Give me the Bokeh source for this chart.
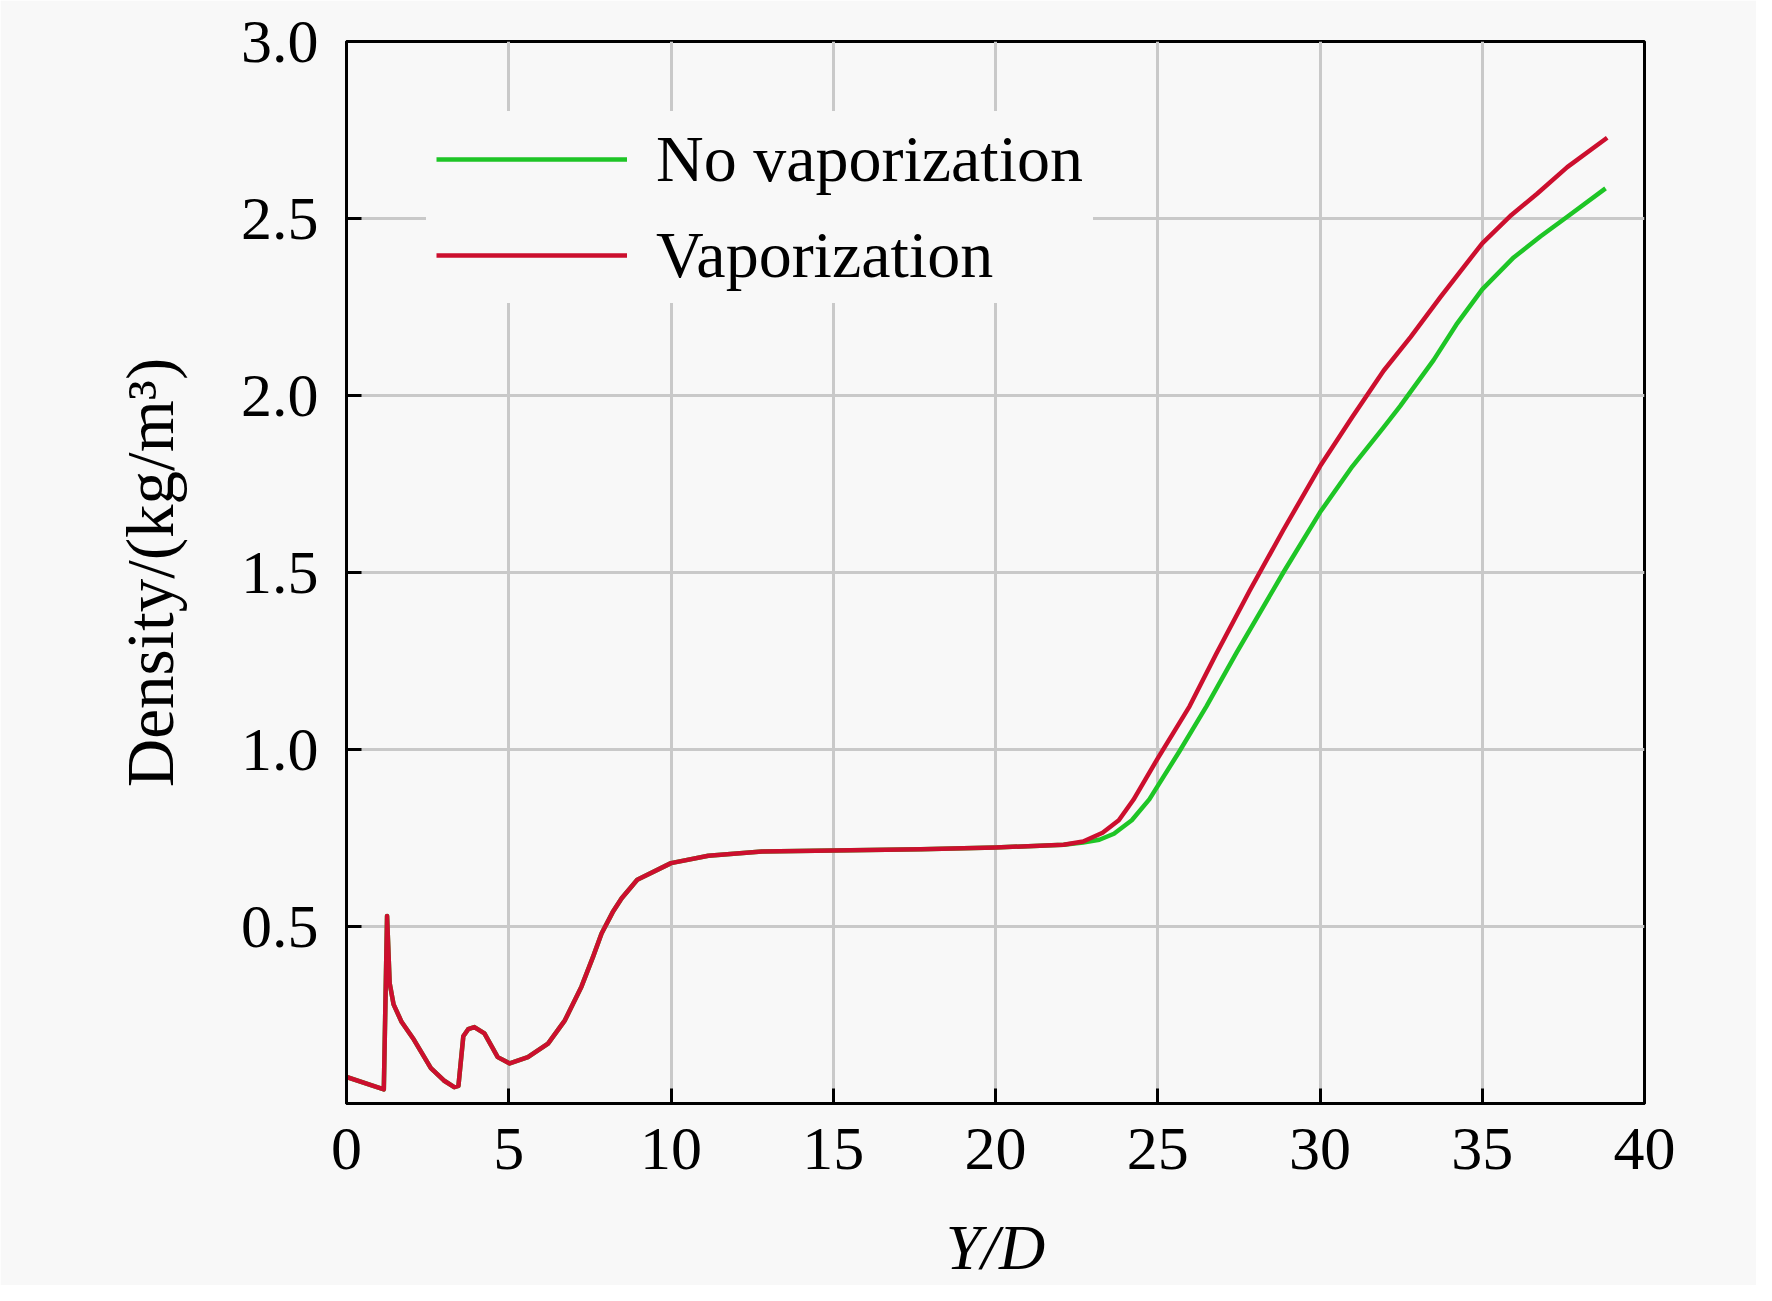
from bokeh.plotting import figure
from bokeh.models import Range1d, FixedTicker, Legend, LegendItem, NumeralTickFormatter
from bokeh.embed import file_html
from bokeh.resources import INLINE

# Shared part of both curves (identical up to Y/D ~ 22)
x_shared = [0, 1.15, 1.25, 1.33, 1.45, 1.7, 2.08, 2.6, 3.0, 3.32, 3.45, 3.6, 3.75,
            3.94, 4.25, 4.66, 5.03, 5.59, 6.21, 6.73, 7.24, 7.6, 7.86, 8.2, 8.48, 8.96, 10.0,
            11.15, 12.8, 15.0, 17.7, 20.0, 22.1]
y_shared = [0.075, 0.04, 0.53, 0.34, 0.28, 0.23, 0.18, 0.10, 0.065, 0.046, 0.05, 0.19, 0.21,
            0.216, 0.198, 0.131, 0.113, 0.131, 0.169, 0.235, 0.33, 0.415, 0.48, 0.54, 0.58, 0.632, 0.679,
            0.70, 0.712, 0.715, 0.718, 0.723, 0.731]

# No vaporization (green) after the shared part
x_novap = [22.7, 23.2, 23.65, 24.2, 24.74, 25.67, 26.5, 27.42, 28.87, 30.0, 31.0,
           31.96, 32.47, 33.5, 34.2, 35.0, 35.97, 36.8, 37.62, 38.8]
y_novap = [0.737, 0.745, 0.762, 0.80, 0.859, 0.995, 1.122, 1.272, 1.50, 1.67, 1.80,
           1.91, 1.97, 2.10, 2.20, 2.30, 2.39, 2.45, 2.505, 2.585]

# Vaporization (red) after the shared part
x_vap = [22.7, 23.3, 23.8, 24.25, 25.0, 25.98, 26.8, 27.84, 28.87, 30.0, 31.0, 31.96,
         32.79, 33.71, 35.0, 35.9, 36.69, 37.62, 38.85]
y_vap = [0.74, 0.765, 0.80, 0.858, 0.975, 1.122, 1.27, 1.45, 1.62, 1.80, 1.94, 2.07,
         2.165, 2.278, 2.43, 2.51, 2.57, 2.645, 2.728]

x_ticks = [0, 5, 10, 15, 20, 25, 30, 35, 40]
y_ticks = [0.5, 1.0, 1.5, 2.0, 2.5, 3.0]
series_names = ["No vaporization", "Vaporization"]
series_colors = ["#1ec526", "#cc0f2e"]

FONT = "Liberation Serif"
BG = "#f8f8f8"

p = figure(width=1756, height=1285, output_backend="svg", toolbar_location=None,
           x_range=Range1d(0, 40), y_range=Range1d(0, 3.0),
           min_border_left=346, min_border_right=112, min_border_top=41, min_border_bottom=182)
p.background_fill_color = BG
p.border_fill_color = BG
p.outline_line_color = "black"
p.outline_line_width = 3

for ax in (p.xaxis[0], p.yaxis[0]):
    ax.axis_line_width = 3
    ax.axis_line_color = "black"
    ax.major_tick_line_width = 3
    ax.major_tick_in = 15
    ax.major_tick_out = 0
    ax.minor_tick_line_color = None
    ax.major_label_text_font = FONT
    ax.major_label_text_font_size = "62px"
    ax.major_label_text_color = "black"
    ax.axis_label_text_font = FONT
    ax.axis_label_text_font_size = "64px"
    ax.axis_label_text_font_style = "normal"
    ax.axis_label_text_color = "black"

p.xaxis.ticker = FixedTicker(ticks=x_ticks)
p.yaxis.ticker = FixedTicker(ticks=y_ticks)
p.yaxis.formatter = NumeralTickFormatter(format="0.0")
p.xaxis.major_label_standoff = 25
p.yaxis.major_label_standoff = 28
p.xaxis.axis_label = "Y/D"
p.xaxis.axis_label_text_font_style = "italic"
p.xaxis.axis_label_standoff = 40
p.yaxis.axis_label = "Density/(kg/m³)"
p.yaxis.axis_label_text_font_size = "67px"
p.yaxis.axis_label_standoff = 51

p.xgrid.grid_line_color = "#c9c9c9"
p.ygrid.grid_line_color = "#c9c9c9"
p.xgrid.grid_line_width = 3
p.ygrid.grid_line_width = 3

xs_green = x_shared + x_novap
ys_green = y_shared + y_novap
xs_red = x_shared + x_vap
ys_red = y_shared + y_vap

r_green = p.line(xs_green, ys_green, line_color=series_colors[0], line_width=4.5, line_join="round")
r_red = p.line(xs_red, ys_red, line_color=series_colors[1], line_width=4.5, line_join="round")

legend = Legend(items=[LegendItem(label=series_names[0], renderers=[r_green]),
                       LegendItem(label=series_names[1], renderers=[r_red])],
                location=(80, 800))
legend.background_fill_color = BG
legend.background_fill_alpha = 1.0
legend.border_line_alpha = 0
legend.label_text_font = FONT
legend.label_text_font_size = "66px"
legend.label_text_color = "black"
legend.glyph_width = 191
legend.glyph_height = 76
legend.label_height = 76
legend.label_standoff = 29
legend.spacing = 20
legend.padding = 10
legend.margin = 0
p.add_layout(legend, "center")

open("out.html", "w").write(file_html(p, INLINE))
